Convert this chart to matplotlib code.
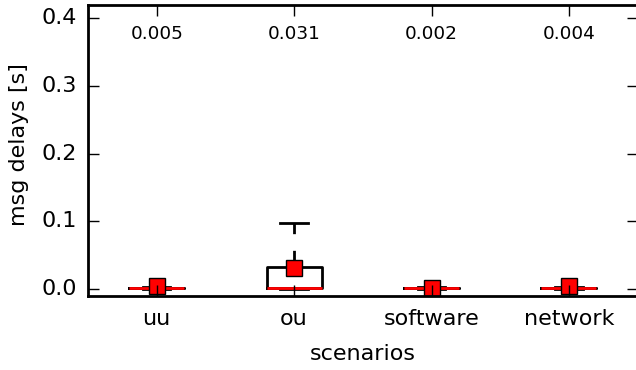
import matplotlib
matplotlib.use("Agg")
import matplotlib.pyplot as plt

plt.style.use("classic")
plt.rcParams["font.size"] = 8

# scenario names and box statistics (seconds)
scenarios = ["uu", "ou", "software", "network"]
whis_lo = [0.0005, 0.0, 0.0005, 0.0005]
q1 = [0.001, 0.0015, 0.001, 0.001]
medians = [0.0015, 0.002, 0.0015, 0.0015]
q3 = [0.002, 0.033, 0.002, 0.002]
whis_hi = [0.003, 0.098, 0.003, 0.003]
means = [0.005, 0.031, 0.002, 0.004]

stats = []
for i, name in enumerate(scenarios):
    stats.append({
        "label": name,
        "whislo": whis_lo[i],
        "q1": q1[i],
        "med": medians[i],
        "q3": q3[i],
        "whishi": whis_hi[i],
        "mean": means[i],
        "fliers": [],
    })

fig = plt.figure(figsize=(3.18, 1.85), dpi=200, facecolor="white")
# right spine sits just past the picture edge, as in the original crop
ax = fig.add_axes([88 / 636, 0.2003, (637.6 - 88) / 636, 0.9876 - 0.2003])

ax.bxp(stats, widths=0.4, showmeans=True, showfliers=False,
       boxprops=dict(color="k"),
       whiskerprops=dict(color="k", linestyle="--"),
       capprops=dict(color="k"),
       medianprops=dict(color="r"))

# mean value printed above each box
for i, m in enumerate(means):
    ax.text(i + 1, 0.376, "%.3f" % m, ha="center", va="center", fontsize="small")

ax.set_xlim(0.5, 4.5)
ax.set_ylim(-0.01, 0.42)
ax.set_yticks([0.0, 0.1, 0.2, 0.3, 0.4])
ax.yaxis.set_major_formatter(matplotlib.ticker.FormatStrFormatter("%.1f"))
ax.tick_params(axis="x", pad=4.7)
ax.set_xlabel("scenarios", labelpad=5.4)
ax.set_ylabel("msg delays [s]")
ax.yaxis.set_label_coords(-0.108, 0.52)

fig.savefig("out.png", dpi=200, facecolor="white")
